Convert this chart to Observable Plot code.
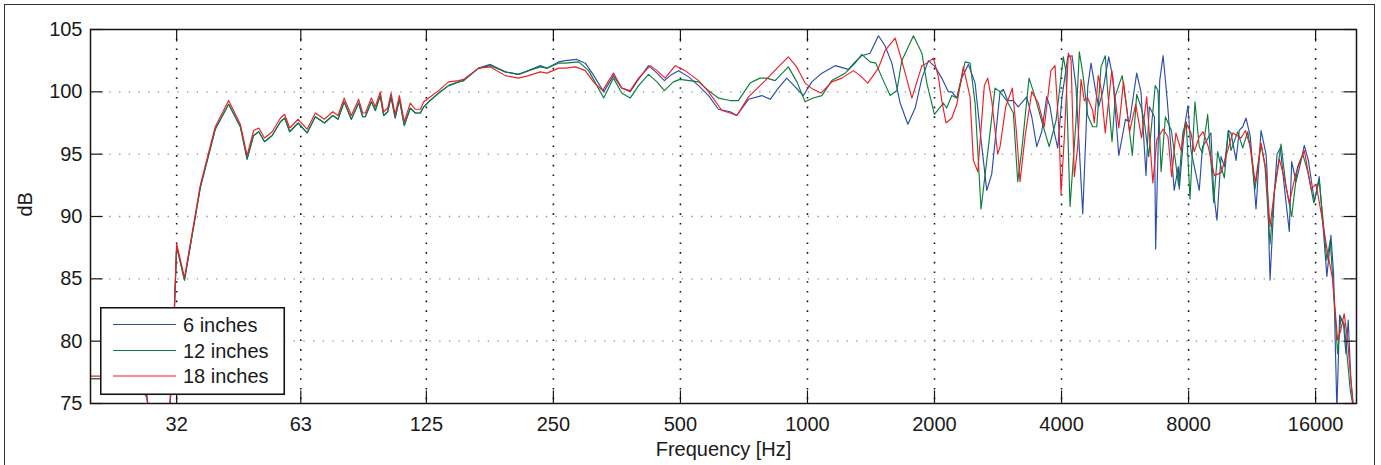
<!DOCTYPE html>
<html><head><meta charset="utf-8">
<script src="https://cdn.jsdelivr.net/npm/d3@7"></script>
<script src="https://cdn.jsdelivr.net/npm/@observablehq/plot@0.6"></script>
<style>
body{margin:0;background:#fff;overflow:hidden;}
#wrap{position:relative;width:1381px;height:465px;overflow:hidden;font-family:"Liberation Sans",Arial,Helvetica,sans-serif;color:#1a1a1a;}
#border{position:absolute;left:4px;top:4px;width:1369px;height:480px;border:1.5px solid #333;pointer-events:none;}
#legend{position:absolute;left:100px;top:307px;}
</style></head>
<body><div id="wrap"><div id="border"></div></div>
<script>
const xTicks = [32, 63, 125, 250, 500, 1000, 2000, 4000, 8000, 16000];
const yTicks = [75, 80, 85, 90, 95, 100, 105];
const xLabel = "Frequency [Hz]";
const yLabel = "dB";
const seriesNames = ["6 inches", "12 inches", "18 inches"];
const seriesColors = ["#2b4ea8", "#0e7c3f", "#ec1f27"];

const inch6 = [[20,77.0],[22,77.0],[24,76.9],[26,76.5],[27.2,75.5],[28,72],[30,71],[30.8,74],[31.5,81],[32,87.6],[33.4,84.9],[36.4,92.3],[39.5,97.0],[42.5,99.0],[45.3,97.2],[47.0,94.6],[48.7,96.5],[50.1,96.8],[51.7,96.0],[53.9,96.5],[56.4,97.6],[57.7,97.9],[59.3,96.8],[62.1,97.5],[65.2,96.7],[68.2,98.0],[71.7,97.5],[75.0,98.1],[77.2,97.8],[79.8,99.2],[83.0,97.8],[86.4,99.1],[88.3,98.0],[89.6,98.0],[92.6,99.2],[94.6,98.5],[97.2,99.7],[99.0,98.1],[101.2,98.4],[103.1,99.6],[105.4,97.9],[107.9,99.4],[110.8,97.3],[114.5,98.7],[117.7,98.3],[121.0,98.3],[123.2,98.8],[126.6,99.2],[133.7,99.9],[141.1,100.5],[149.1,100.8],[153.2,100.9],[166.2,101.9],[177.2,102.2],[192.3,101.6],[206.7,101.4],[218.3,101.7],[232.7,102.1],[241.4,101.9],[257.1,102.4],
[267,102.5],[284,102.6],[297.5,102.3],[309,101.5],[329,100.0],[347,101.3],[363,100.3],[380,100.0],[394,100.8],[420,102.1],[440,101.5],[458,100.9],[477,101.4],[495,101.7],[523,101.2],[552,100.5],[583,99.7],[615,98.6],[656,98.4],[680,98.1],[725,99.4],[780,99.7],[816,99.4],[853,100.3],[893,101.1],[935,100.4],[978,99.7],[1024,100.8],[1082,101.5],[1163,102.1],[1250,101.8],[1297,102.4],[1345,102.9],[1407,103.1],[1473,104.5],[1527,103.7],[1585,102.3],[1658,99.1],[1729,97.4],[1800,98.7],[1867,101.1],[1935,102.5],[2007,102.0],[2081,101.1],[2157,100.0],[2198,100.0],[2259,99.5],[2321,101.1],[2406,102.2],[2496,100.7],[2564,96.9],[2660,92.1],[2733,93.4],[2860,100.0],[2912,100.2],[2982,99.3],[3075,99.3],[3157,98.8],[3308,99.6],[3400,98.0],[3494,95.6],[3590,96.8],[3689,99.6],[3757,98.8],[3846,96.7],[3918,95.5],[4011,99.6],[4138,102.8],[4236,102.9],[4329,100.4],[4491,90.2],[4615,100.4],[4698,102.3],[4828,99.9],[4899,98.8],[5008,100.0],[5174,102.8],[5290,101.2],[5467,94.9],[5671,97.8],[5799,97.6],[6028,101.5],[6170,100.0],[6341,93.3],[6456,98.8],[6640,98.0],[6684,87.4],[6835,100.9],[6963,102.9],[7122,99.3],[7396,92.1],[7565,94.0],[7605,92.2],[7825,97.2],[7974,98.9],[8105,95.3],[8481,92.1],[8630,95.6],[8796,96.0],[9038,96.7],[9174,91.9],[9341,89.7],[9549,94.8],[9724,94.0],[9940,96.9],[10084,96.7],[10367,94.5],[10550,96.9],[10750,97.2],[10946,97.9],[11204,96.4],[11559,90.6],[11879,96.9],[12209,95.0],[12274,93.7],[12478,84.9],[12775,91.9],[12963,95.0],[13198,95.5],[13488,92.4],[13860,88.8],[14042,94.4],[14376,92.8],[14719,94.2],[15045,95.7],[15380,94.5],[15898,91.2],[16317,93.2],[17017,85.2],[17392,88.5],[17651,85.4],[17971,74.5],[18240,82.1],[18640,81.3],[18875,79.0],[19115,81.7],[19400,76.9],[19688,74.5],[20000,73]];

const inch12 = [[20,77.0],[22,77.0],[24,76.9],[26,76.5],[27.2,75.5],[28,72],[30,71],[30.8,74],[31.5,81],[32,87.6],[33.4,84.9],[36.4,92.3],[39.5,97.0],[42.5,99.0],[45.3,97.2],[47.0,94.6],[48.7,96.5],[50.1,96.8],[51.7,96.0],[53.9,96.5],[56.4,97.6],[57.7,97.9],[59.3,96.8],[62.1,97.5],[65.2,96.7],[68.2,98.0],[71.7,97.5],[75.0,98.1],[77.2,97.8],[79.8,99.2],[83.0,97.8],[86.4,99.1],[88.3,98.0],[89.6,98.0],[92.6,99.2],[94.6,98.5],[97.2,99.7],[99.0,98.1],[101.2,98.4],[103.1,99.6],[105.4,97.9],[107.9,99.4],[110.8,97.3],[114.5,98.7],[117.7,98.3],[121.0,98.3],[123.2,98.8],[126.6,99.2],[133.7,99.9],[141.1,100.5],[149.1,100.8],[153.2,100.9],[166.2,101.9],[177.2,102.1],[192.3,101.6],[206.7,101.4],[218.3,101.7],[232.7,102.0],[241.4,101.9],[257.1,102.3],
[267,102.3],[287,102.4],[303,101.7],[317,100.5],[329,99.5],[347,101.1],[363,99.9],[380,99.5],[398,100.5],[420,101.4],[440,100.8],[458,100.1],[481,100.8],[499,101.0],[552,100.8],[583,100.1],[615,99.5],[656,99.3],[686,99.3],[731,100.7],[772,101.1],[801,101.1],[838,100.9],[901,102.0],[944,100.8],[987,99.2],[1031,99.5],[1082,99.7],[1142,100.9],[1228,101.5],[1297,102.3],[1345,103.0],[1407,102.4],[1452,102.3],[1513,100.9],[1570,99.7],[1629,100.1],[1673,102.5],[1783,104.5],[1867,103.1],[1918,100.7],[1999,98.2],[2099,99.1],[2137,98.7],[2198,99.7],[2259,99.5],[2363,102.4],[2428,102.3],[2496,99.1],[2578,90.6],[2684,95.6],[2783,100.3],[2860,100.0],[2966,99.3],[3075,98.3],[3150,92.8],[3219,95.3],[3350,101.1],[3462,99.6],[3600,97.5],[3740,95.6],[3882,97.7],[4039,102.8],[4099,101.6],[4190,90.8],[4329,97.7],[4408,103.2],[4491,101.5],[4615,98.1],[4742,97.2],[4847,97.2],[4961,102.0],[5078,102.9],[5146,100.0],[5269,96.0],[5366,99.7],[5568,101.3],[5690,99.1],[5886,94.9],[6028,99.8],[6170,98.8],[6280,97.7],[6436,94.8],[6669,100.5],[6770,100.1],[6886,93.6],[7050,98.0],[7285,96.9],[7578,92.5],[7751,96.7],[7898,97.6],[8061,91.4],[8284,99.2],[8481,95.6],[8630,95.1],[8878,98.2],[9038,94.5],[9174,91.1],[9376,95.2],[9549,94.0],[9724,93.1],[9940,96.9],[10084,95.3],[10458,96.8],[10750,95.5],[11048,96.8],[11248,95.1],[11496,92.2],[11879,95.8],[12142,94.0],[12478,87.8],[12775,92.0],[13248,95.8],[13615,92.4],[14042,90.0],[14499,94.0],[14914,95.0],[15330,93.6],[15845,91.1],[16317,92.9],[17017,86.5],[17328,88.1],[18040,79.0],[18366,81.9],[18702,81.4],[19325,76.1],[19688,74.5],[20000,73]];

const inch18 = [[20,77.2],[22,77.2],[24,77.1],[26,76.7],[27.2,75.7],[28,72],[30,71],[30.8,74.5],[31.5,81.5],[32,87.8],[33.4,85.1],[36.4,92.5],[39.5,97.2],[42.5,99.3],[45.3,97.4],[47.0,94.9],[48.7,96.9],[50.1,97.1],[51.7,96.3],[53.9,96.8],[56.4,97.9],[57.7,98.2],[59.3,97.1],[62.1,97.8],[65.2,97.0],[68.2,98.3],[71.7,97.8],[75.0,98.4],[77.2,98.1],[79.8,99.5],[83.0,98.1],[86.4,99.4],[88.3,98.3],[89.6,98.3],[92.6,99.5],[94.6,98.8],[97.2,100.0],[99.0,98.4],[101.2,98.7],[103.1,99.9],[105.4,98.2],[107.9,99.7],[110.8,97.6],[114.5,99.1],[117.7,98.6],[121.0,98.6],[123.2,99.2],[126.6,99.5],[133.7,100.1],[141.1,100.8],[149.1,100.9],[153.2,101.0],[166.2,101.9],[177.2,102.0],[192.3,101.3],[206.7,101.1],[218.3,101.3],[232.7,101.6],[241.4,101.5],[257.1,101.9],
[267,101.9],[282,102.0],[297.5,101.7],[311,100.8],[327,100.1],[347,101.5],[363,100.3],[380,100.1],[398,101.1],[424,102.1],[440,101.7],[460,101.1],[486,102.1],[513,101.7],[552,100.9],[583,100.0],[627,98.5],[656,98.3],[680,98.1],[725,99.6],[794,100.9],[853,102.0],[901,102.8],[943,102.0],[987,100.7],[1031,100.2],[1077,99.9],[1142,100.8],[1206,101.1],[1285,101.7],[1333,101.3],[1390,100.7],[1473,101.9],[1527,103.3],[1614,104.3],[1673,102.5],[1768,99.5],[1867,102.1],[1918,102.3],[1988,102.7],[2043,101.2],[2081,99.3],[2130,97.5],[2198,97.9],[2259,99.0],[2341,102.0],[2428,99.6],[2472,94.5],[2533,93.6],[2625,100.5],[2674,101.1],[2733,99.3],[2824,95.0],[2860,95.6],[2950,98.8],[3058,100.3],[3125,96.9],[3190,92.8],[3278,96.4],[3400,100.0],[3524,99.1],[3641,97.2],[3775,101.7],[3859,102.1],[3952,96.4],[3989,91.8],[4062,96.4],[4151,103.1],[4213,102.6],[4289,93.2],[4370,95.6],[4449,101.0],[4529,99.3],[4615,99.5],[4742,98.5],[4783,97.5],[4889,101.3],[4961,100.3],[5078,96.7],[5261,101.7],[5467,97.1],[5608,100.8],[5799,96.8],[5996,99.0],[6190,96.3],[6366,99.6],[6583,92.7],[6730,96.2],[6963,97.0],[7150,96.4],[7297,93.2],[7465,96.7],[7677,95.3],[7898,97.5],[8105,96.7],[8252,95.2],[8481,96.4],[8660,96.8],[8906,95.6],[9204,93.3],[9549,93.5],[9907,95.3],[10182,96.7],[10653,96.3],[10905,96.9],[11204,95.6],[11515,92.7],[11879,95.9],[12209,93.7],[12478,89.2],[12775,92.0],[13126,94.6],[13488,93.1],[13860,91.1],[14376,93.5],[15045,95.3],[15611,92.2],[16040,92.6],[16469,90.4],[17082,87.1],[17555,85.0],[18040,80.1],[18366,80.9],[18702,82.2],[19051,80.1],[19400,76.8],[19688,74.5],[20000,73]];

const rows = [];
[inch6, inch12, inch18].forEach((arr, i) => arr.forEach(([f, db]) => rows.push({f, db, s: seriesNames[i]})));

const W = 1381, H = 465, mL = 90, mR = 25, mT = 29, mB = 62;
const fw = W - mL - mR, fh = H - mT - mB, tk = 12.6;
const ink = "#151515";
const font = '"Liberation Sans", Arial, Helvetica, sans-serif';

const chart = Plot.plot({
  width: W, height: H, marginLeft: mL, marginRight: mR, marginTop: mT, marginBottom: mB,
  style: {fontFamily: font, fontSize: "20px", color: "#1a1a1a", background: "#fff", overflow: "visible"},
  x: {type: "log", domain: [20, 20000], axis: null},
  y: {domain: [75, 105]},
  color: {domain: seriesNames, range: seriesColors},
  marks: [
    Plot.ruleY(yTicks.slice(1, -1), {stroke: "#8c8c8c", strokeWidth: 1.3, strokeDasharray: "1.3,8.4"}),
    Plot.ruleX(xTicks, {stroke: "#111", strokeWidth: 1.6, strokeDasharray: "1.6,8.1"}),
    Plot.line(rows, {x: "f", y: "db", z: "s", stroke: "s", strokeWidth: 1.15, clip: true}),
    Plot.ruleX(xTicks, {insetTop: fh - tk, stroke: ink, strokeWidth: 1.2}),
    Plot.ruleX(xTicks, {insetBottom: fh - tk, stroke: ink, strokeWidth: 1.2}),
    Plot.ruleY(yTicks, {insetRight: fw - tk, stroke: ink, strokeWidth: 1.2}),
    Plot.ruleY(yTicks, {insetLeft: fw - tk, stroke: ink, strokeWidth: 1.2}),
    Plot.frame({stroke: ink, strokeWidth: 1.5}),
    Plot.text(xTicks, {x: d => d, text: d => String(d), frameAnchor: "bottom", lineAnchor: "top", dy: 13, fill: "#1a1a1a"}),
    Plot.text([xLabel], {frameAnchor: "bottom", lineAnchor: "middle", dy: 46.5, fill: "#1a1a1a"}),
    Plot.text([yLabel], {frameAnchor: "left", lineAnchor: "middle", dx: -65, rotate: -90, fill: "#1a1a1a"}),
    Plot.axisY({ticks: yTicks, tickSize: 0, tickPadding: 8, tickFormat: d => String(d), label: null})
  ]
});
const wrap = document.getElementById("wrap");
wrap.insertBefore(chart, wrap.firstChild);

// legend
const lg = document.createElement("div");
lg.id = "legend";
const ys = [17.5, 43.5, 69];
let svg = `<svg width="186" height="89" xmlns="http://www.w3.org/2000/svg" style="display:block">`;
svg += `<rect x="0.75" y="0.75" width="183.5" height="86.5" fill="#fff" stroke="${ink}" stroke-width="1.6"/>`;
seriesNames.forEach((n, i) => {
  svg += `<line x1="13" x2="76" y1="${ys[i]}" y2="${ys[i]}" stroke="${seriesColors[i]}" stroke-width="1.2"/>`;
  svg += `<text x="83" y="${ys[i] + 7}" font-family='${font}' font-size="20" fill="#1a1a1a">${n}</text>`;
});
svg += `</svg>`;
lg.innerHTML = svg;
wrap.appendChild(lg);
</script>
</body></html>
